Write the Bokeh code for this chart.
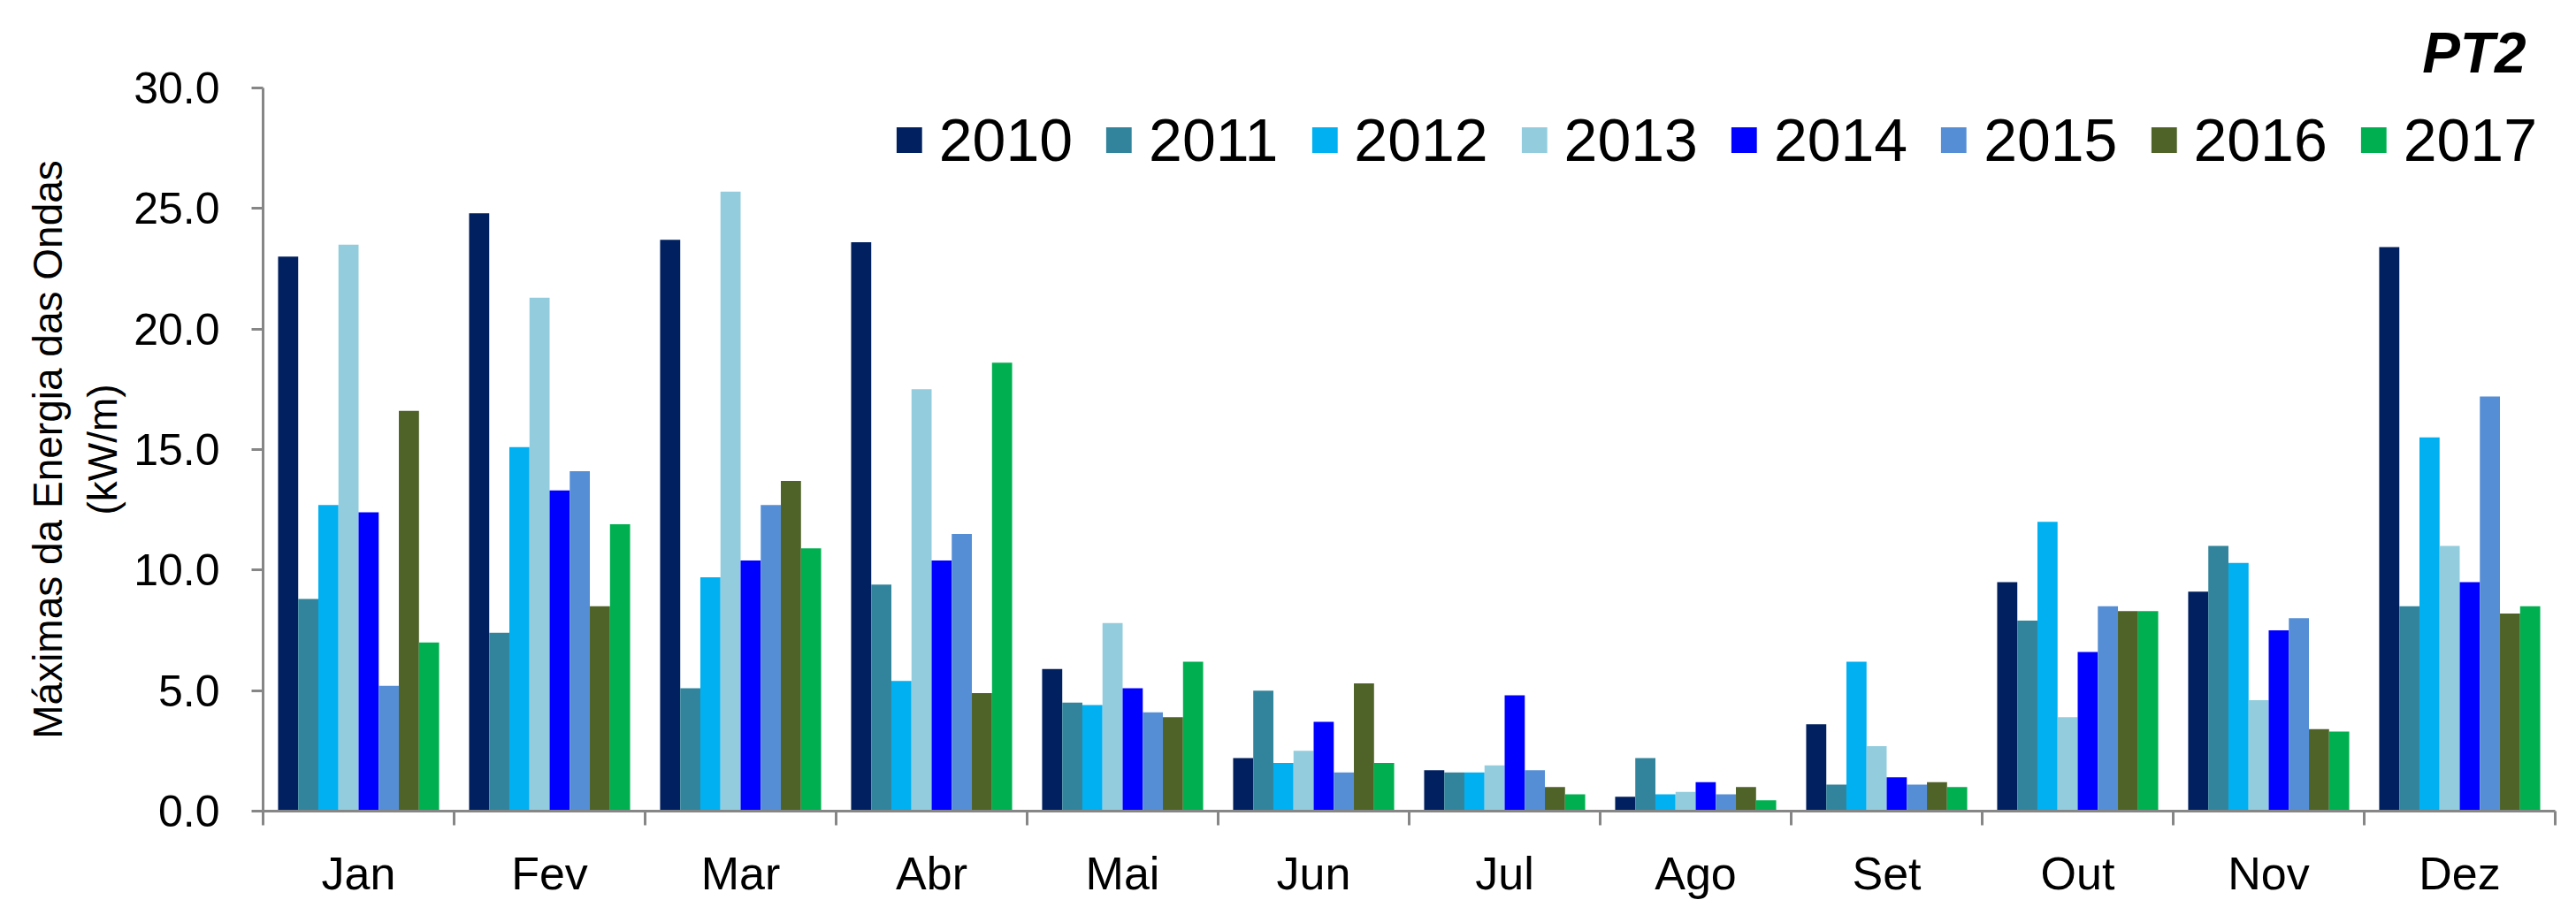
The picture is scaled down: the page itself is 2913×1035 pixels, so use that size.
import numpy as np
from bokeh.plotting import figure
from bokeh.models import (ColumnDataSource, Range1d, FixedTicker, NumeralTickFormatter,
                          Legend, LegendItem, Title)
from bokeh.embed import file_html
from bokeh.resources import INLINE

months = ["Jan", "Fev", "Mar", "Abr", "Mai", "Jun", "Jul", "Ago", "Set", "Out", "Nov", "Dez"]
years = ["2010", "2011", "2012", "2013", "2014", "2015", "2016", "2017"]

v2010 = [23.0, 24.8, 23.7, 23.6, 5.9, 2.2, 1.7, 0.6, 3.6, 9.5, 9.1, 23.4]
v2011 = [8.8, 7.4, 5.1, 9.4, 4.5, 5.0, 1.6, 2.2, 1.1, 7.9, 11.0, 8.5]
v2012 = [12.7, 15.1, 9.7, 5.4, 4.4, 2.0, 1.6, 0.7, 6.2, 12.0, 10.3, 15.5]
v2013 = [23.5, 21.3, 25.7, 17.5, 7.8, 2.5, 1.9, 0.8, 2.7, 3.9, 4.6, 11.0]
v2014 = [12.4, 13.3, 10.4, 10.4, 5.1, 3.7, 4.8, 1.2, 1.4, 6.6, 7.5, 9.5]
v2015 = [5.2, 14.1, 12.7, 11.5, 4.1, 1.6, 1.7, 0.7, 1.1, 8.5, 8.0, 17.2]
v2016 = [16.6, 8.5, 13.7, 4.9, 3.9, 5.3, 1.0, 1.0, 1.2, 8.3, 3.4, 8.2]
v2017 = [7.0, 11.9, 10.9, 18.6, 6.2, 2.0, 0.7, 0.45, 1.0, 8.3, 3.3, 8.5]

series = [v2010, v2011, v2012, v2013, v2014, v2015, v2016, v2017]
colors = ["#002060", "#31849B", "#00B0F0", "#93CDDD", "#0000FF", "#558ED5", "#4F6228", "#00B050"]

FONT = "Liberation Sans"
W, H = 2913, 1035

p = figure(width=W, height=H, output_backend="svg", toolbar_location=None,
           x_range=Range1d(0, len(months)), y_range=Range1d(0, 30),
           min_border_left=297, min_border_right=24, min_border_top=99, min_border_bottom=118)
p.outline_line_color = None
p.xgrid.visible = False
p.ygrid.visible = False
p.background_fill_color = "white"

group_w = 0.843
bw = group_w / len(years)
idx = np.arange(len(months))
items = []
for j, (yr, vals, c) in enumerate(zip(years, series, colors)):
    src = ColumnDataSource(dict(x=idx + 0.5 + (j - (len(years) - 1) / 2) * bw, top=vals))
    r = p.vbar(x="x", top="top", width=bw, bottom=0, source=src, fill_color=c, line_color=None)
    items.append(LegendItem(label=yr, renderers=[r]))

axis_gray = "#868686"
# x axis: labels at centres, separator ticks at boundaries
xa = p.xaxis[0]
xa.ticker = FixedTicker(ticks=list(idx + 0.5), minor_ticks=list(range(len(months) + 1)))
xa.major_label_overrides = {float(i + 0.5): m for i, m in enumerate(months)}
xa.major_tick_out = 0
xa.major_tick_in = 0
xa.minor_tick_out = 16
xa.minor_tick_in = 0
xa.minor_tick_line_color = axis_gray
xa.minor_tick_line_width = 3
xa.axis_line_color = axis_gray
xa.axis_line_width = 3
xa.major_label_text_font = FONT
xa.major_label_text_font_size = "52px"
xa.major_label_text_color = "black"
xa.major_label_standoff = 25

ya = p.yaxis[0]
ya.ticker = FixedTicker(ticks=[0, 5, 10, 15, 20, 25, 30])
ya.formatter = NumeralTickFormatter(format="0.0")
ya.major_tick_out = 13
ya.major_tick_in = 0
ya.minor_tick_out = 0
ya.minor_tick_in = 0
ya.major_tick_line_color = axis_gray
ya.major_tick_line_width = 3
ya.axis_line_color = axis_gray
ya.axis_line_width = 3
ya.major_label_text_font = FONT
ya.major_label_text_font_size = "50px"
ya.major_label_text_color = "black"
ya.major_label_standoff = 36
ya.axis_label = "Máximas da Energia das Ondas\n(kW/m)"
ya.axis_label_text_font = FONT
ya.axis_label_text_font_size = "46px"
ya.axis_label_text_font_style = "normal"
ya.axis_label_text_color = "black"
ya.axis_label_standoff = 6

p.add_layout(Title(text="PT2", align="right", offset=33, text_font=FONT,
                   text_font_size="64px", text_font_style="bold italic",
                   text_color="black", standoff=8), "above")

legend = Legend(items=items, orientation="horizontal", location="top_right",
                glyph_width=36, glyph_height=36, label_standoff=16, spacing=34,
                padding=10, margin=20, border_line_color=None, background_fill_alpha=0,
                label_text_font=FONT, label_text_font_size="68px", label_text_color="black")
p.add_layout(legend, "center")

open("out.html", "w").write(file_html(p, INLINE))
